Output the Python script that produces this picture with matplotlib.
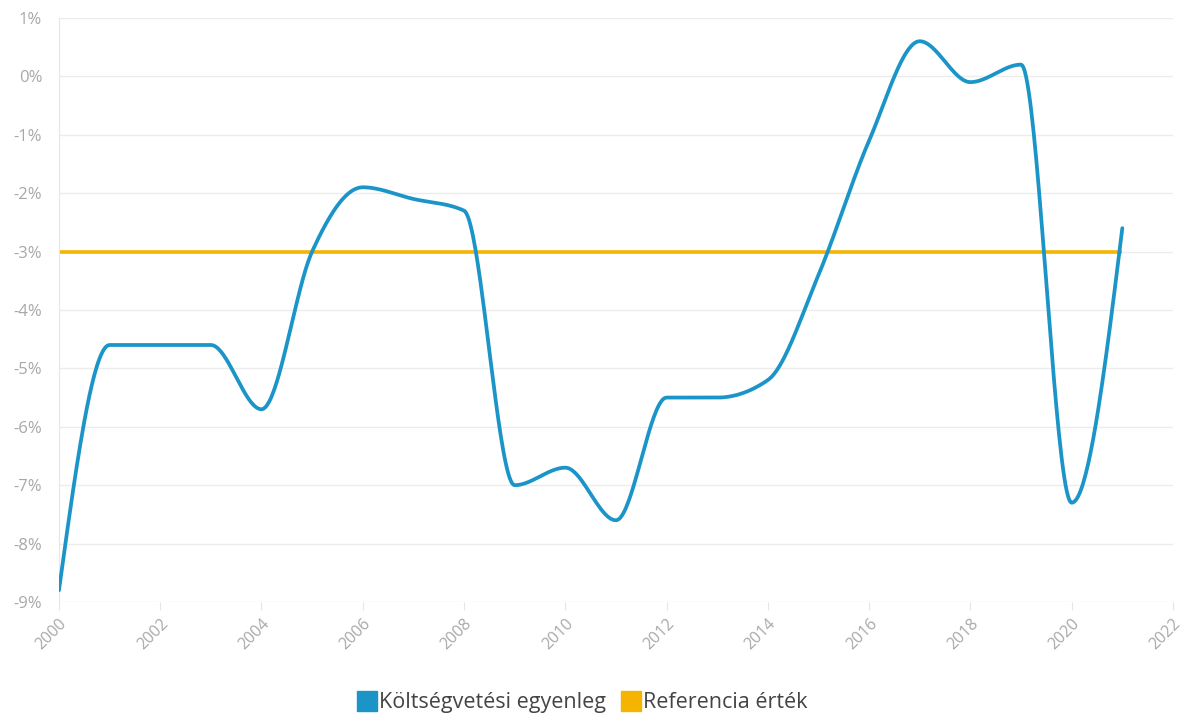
import numpy as np
import matplotlib.pyplot as plt
from matplotlib.lines import Line2D
from matplotlib.ticker import FuncFormatter

# data
years = list(range(2000, 2022))
balance = [-8.8, -4.6, -4.6, -4.6, -5.7, -3.0, -1.9, -2.1, -2.3, -7.0, -6.7,
           -7.6, -5.5, -5.5, -5.2, -3.4, -1.1, 0.6, -0.1, 0.2, -7.3, -2.6]
reference = [-3.0] * len(years)

blue = "#1b94c8"
orange = "#f5b400"


# monotone cubic curve (same shape as d3 curveMonotoneX)
def monotone(x, y, n=40):
    x = np.asarray(x, float)
    y = np.asarray(y, float)
    h = np.diff(x)
    s = np.diff(y) / h
    t = np.zeros(len(x))
    for i in range(1, len(x) - 1):
        p = (s[i - 1] * h[i] + s[i] * h[i - 1]) / (h[i - 1] + h[i])
        t[i] = (np.sign(s[i - 1]) + np.sign(s[i])) * min(abs(s[i - 1]), abs(s[i]), 0.5 * abs(p))
    t[0] = (3 * s[0] - t[1]) / 2
    t[-1] = (3 * s[-1] - t[-2]) / 2
    xs, ys = [], []
    for i in range(len(x) - 1):
        u = np.linspace(0, 1, n, endpoint=False)
        h00 = 2 * u**3 - 3 * u**2 + 1
        h10 = u**3 - 2 * u**2 + u
        h01 = -2 * u**3 + 3 * u**2
        h11 = u**3 - u**2
        xs.append(x[i] + u * h[i])
        ys.append(h00 * y[i] + h10 * h[i] * t[i] + h01 * y[i + 1] + h11 * h[i] * t[i + 1])
    xs.append([x[-1]])
    ys.append([y[-1]])
    return np.concatenate(xs), np.concatenate(ys)


plt.rcParams["font.family"] = ["Open Sans", "DejaVu Sans"]

fig = plt.figure(figsize=(11.86, 7.15), dpi=100)
ax = fig.add_axes([0.0497, 0.158, 0.9393, 0.817])

ax.plot(years, reference, color=orange, lw=2.6, solid_capstyle="butt", zorder=2)
cx, cy = monotone(years, balance)
ax.plot(cx, cy, color=blue, lw=2.7, solid_capstyle="round", zorder=3)

ax.set_xlim(2000, 2022)
ax.set_ylim(-9, 1)
ax.set_xticks(range(2000, 2023, 2))
ax.set_yticks(range(-9, 2))
ax.yaxis.set_major_formatter(FuncFormatter(lambda v, p: f"{int(v)}%"))

ax.grid(axis="y", color="#ececec", lw=1)
for side in ["top", "right", "bottom"]:
    ax.spines[side].set_visible(False)
ax.spines["left"].set_color("#e6e6e6")
ax.tick_params(axis="y", length=0, pad=12, labelsize=12, labelcolor="#a8a8a8")
ax.tick_params(axis="x", length=6, color="#e6e6e6", pad=4, labelsize=11.5, labelcolor="#a8a8a8")
for lab in ax.get_xticklabels():
    lab.set_rotation(45)
    lab.set_ha("right")
    lab.set_va("top")
    lab.set_rotation_mode("anchor")

handles = [Line2D([], [], marker="s", ls="none", ms=14, color=blue),
           Line2D([], [], marker="s", ls="none", ms=14, color=orange)]
fig.legend(handles, ["Költségvetési egyenleg", "Referencia érték"],
           loc="center", bbox_to_anchor=(0.491, 0.017), ncol=2, frameon=False,
           fontsize=15.5, labelcolor="#444444", handletextpad=0.1,
           columnspacing=0.7, handlelength=0.9)

fig.savefig("out.png", dpi=100)
